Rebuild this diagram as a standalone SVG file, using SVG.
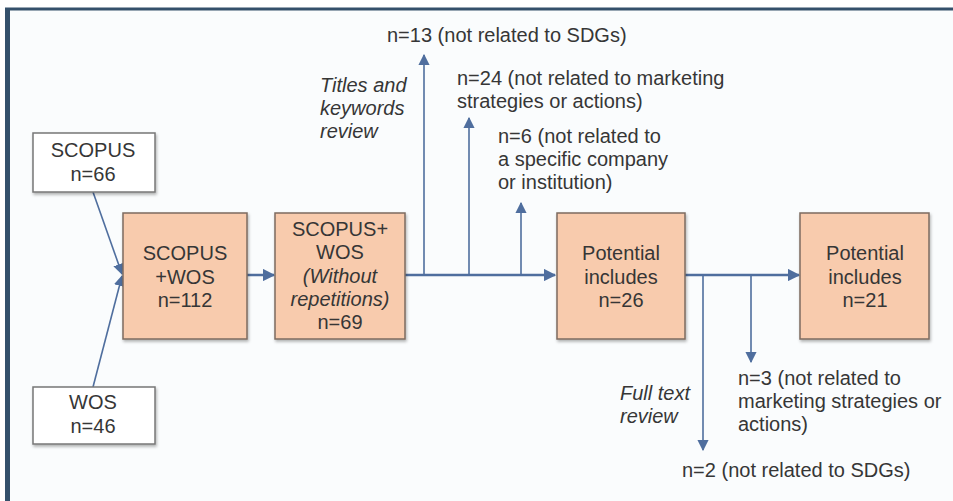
<svg xmlns="http://www.w3.org/2000/svg" width="953" height="501" viewBox="0 0 953 501">
<defs>
<style>
.t{font-family:"Liberation Sans",Arial,sans-serif;font-size:20px;fill:#363636}
.i{font-style:italic}
.c{text-anchor:middle}
.src{fill:#fff;stroke:#777;stroke-width:1.5}
.box{fill:#f8cbad;stroke:#7d6b60;stroke-width:1.5}
.ln{stroke:#4f6e9e;fill:none}
.main{stroke-width:2.5}
.br{stroke-width:1.6}
</style>
<marker id="ah" viewBox="0 0 10 10" refX="9" refY="5" markerWidth="5" markerHeight="5" orient="auto" markerUnits="strokeWidth">
<path d="M0,0 L10,5 L0,10 z" fill="#4f6e9e"/>
</marker>
<marker id="ah2" viewBox="0 0 10 10" refX="9" refY="5" markerWidth="7" markerHeight="7" orient="auto" markerUnits="strokeWidth">
<path d="M0,0 L10,5 L0,10 z" fill="#4f6e9e"/>
</marker>
<filter id="sh" x="-10%" y="-10%" width="130%" height="130%">
<feDropShadow dx="1" dy="2" stdDeviation="1.5" flood-color="#000" flood-opacity="0.3"/>
</filter>
</defs>
<rect x="0" y="0" width="953" height="501" fill="#fff"/>
<rect x="8" y="9" width="945" height="492" fill="#fafcfd"/>
<line x1="5" y1="9" x2="953" y2="9" stroke="#34506b" stroke-width="3"/>
<line x1="7.5" y1="8" x2="7.5" y2="501" stroke="#34506b" stroke-width="5"/>

<g id="connectors">
<line class="ln br" x1="93" y1="192" x2="122" y2="274" marker-end="url(#ah2)"/>
<line class="ln br" x1="93" y1="387" x2="122" y2="276" marker-end="url(#ah2)"/>
<line class="ln main" x1="247" y1="275" x2="274" y2="275" marker-end="url(#ah)"/>
<line class="ln main" x1="405" y1="275" x2="555" y2="275" marker-end="url(#ah)"/>
<line class="ln br" x1="424" y1="275" x2="424" y2="55" marker-end="url(#ah2)"/>
<line class="ln br" x1="469" y1="275" x2="469" y2="118" marker-end="url(#ah2)"/>
<line class="ln br" x1="521" y1="275" x2="521" y2="203" marker-end="url(#ah2)"/>
<line class="ln main" x1="685" y1="275" x2="799" y2="275" marker-end="url(#ah)"/>
<line class="ln br" x1="703" y1="275" x2="703" y2="450" marker-end="url(#ah2)"/>
<line class="ln br" x1="751" y1="275" x2="751" y2="362" marker-end="url(#ah2)"/>
</g>

<g id="scopus">
<rect class="src" x="33" y="133" width="122" height="59" filter="url(#sh)"/>
<text class="t c" x="93" y="157">SCOPUS</text>
<text class="t c" x="93" y="181">n=66</text>
</g>
<g id="wos">
<rect class="src" x="33" y="387" width="122" height="57" filter="url(#sh)"/>
<text class="t c" x="93" y="409">WOS</text>
<text class="t c" x="93" y="433">n=46</text>
</g>
<g id="merged">
<rect class="box" x="123" y="213" width="124" height="126" filter="url(#sh)"/>
<text class="t c" x="185" y="260">SCOPUS</text>
<text class="t c" x="185" y="284">+WOS</text>
<text class="t c" x="185" y="307">n=112</text>
</g>
<g id="dedup">
<rect class="box" x="275" y="213" width="130" height="126" filter="url(#sh)"/>
<text class="t c" x="340" y="236">SCOPUS+</text>
<text class="t c" x="340" y="259">WOS</text>
<text class="t c i" x="340" y="283">(Without</text>
<text class="t c i" x="340" y="306">repetitions)</text>
<text class="t c" x="340" y="329">n=69</text>
</g>
<g id="potential26">
<rect class="box" x="557" y="213" width="128" height="126" filter="url(#sh)"/>
<text class="t c" x="621" y="260">Potential</text>
<text class="t c" x="621" y="284">includes</text>
<text class="t c" x="621" y="307">n=26</text>
</g>
<g id="potential21">
<rect class="box" x="800" y="213" width="129" height="126" filter="url(#sh)"/>
<text class="t c" x="865" y="260">Potential</text>
<text class="t c" x="865" y="284">includes</text>
<text class="t c" x="865" y="307">n=21</text>
</g>

<g id="label-titles">
<text class="t i" x="320" y="92">Titles and</text>
<text class="t i" x="320" y="115">keywords</text>
<text class="t i" x="320" y="138">review</text>
</g>
<g id="excl-13">
<text class="t" x="387" y="42">n=13 (not related to SDGs)</text>
</g>
<g id="excl-24">
<text class="t" x="457" y="85">n=24 (not related to marketing</text>
<text class="t" x="457" y="108">strategies or actions)</text>
</g>
<g id="excl-6">
<text class="t" x="498" y="143">n=6 (not related to</text>
<text class="t" x="498" y="166">a specific company</text>
<text class="t" x="498" y="189">or institution)</text>
</g>
<g id="label-fulltext">
<text class="t i" x="620" y="400">Full text</text>
<text class="t i" x="620" y="423">review</text>
</g>
<g id="excl-3">
<text class="t" x="738" y="385">n=3 (not related to</text>
<text class="t" x="738" y="408">marketing strategies or</text>
<text class="t" x="738" y="431">actions)</text>
</g>
<g id="excl-2">
<text class="t" x="682" y="477">n=2 (not related to SDGs)</text>
</g>
</svg>
